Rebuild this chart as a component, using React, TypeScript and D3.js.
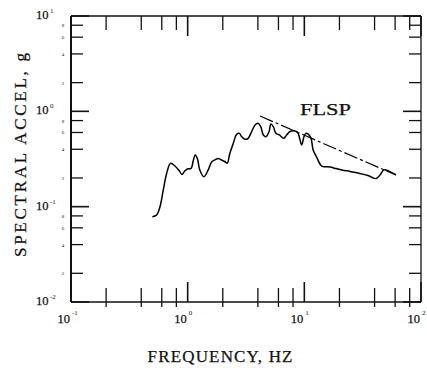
import React from 'react';
import * as d3 from 'd3';

// Response spectrum
const freq = [0.498, 0.542, 0.579, 0.618, 0.661, 0.714, 0.778, 0.847, 0.893, 0.948, 1.01, 1.07, 1.12, 1.16, 1.21, 1.27, 1.38, 1.5, 1.61, 1.71, 1.83, 1.95, 2.09, 2.18, 2.3, 2.46, 2.63, 2.77, 2.9, 3.1, 3.3, 3.53, 3.78, 4.03, 4.23, 4.45, 4.69, 4.98, 5.17, 5.42, 5.71, 6.1, 6.68, 7.05, 7.53, 8.3, 8.81, 9.48, 9.93, 10.3, 10.8, 11.4, 11.9, 12.7, 13.8, 14.5, 16.6, 18.7, 21.0, 24.6, 29.9, 35.1, 41.1, 44.5, 48.1, 53.1, 61.0];
const accel = [0.0785, 0.0818, 0.0999, 0.15, 0.224, 0.285, 0.267, 0.238, 0.218, 0.238, 0.25, 0.252, 0.309, 0.348, 0.321, 0.243, 0.206, 0.243, 0.296, 0.309, 0.321, 0.309, 0.296, 0.285, 0.363, 0.462, 0.574, 0.588, 0.542, 0.509, 0.521, 0.611, 0.719, 0.748, 0.69, 0.565, 0.542, 0.611, 0.736, 0.69, 0.588, 0.565, 0.521, 0.565, 0.614, 0.622, 0.593, 0.444, 0.542, 0.588, 0.578, 0.525, 0.393, 0.334, 0.274, 0.263, 0.261, 0.251, 0.243, 0.234, 0.223, 0.212, 0.197, 0.215, 0.243, 0.236, 0.215];

// FLSP envelope line
const flspFreq = [4.17, 61.0];
const flspAccel = [0.893, 0.215];

const xDecades = [-1, 0, 1, 2];
const yDecades = [1, 0, -1, -2];
const minorMults = [2, 4, 6, 8];

const W = 427;
const H = 368;
const L = 71, R = 421, T = 16, B = 302;

export default function App() {
  const x = d3.scaleLog().domain([0.1, 100]).range([L, R]);
  const y = d3.scaleLog().domain([0.01, 10]).range([B, T]);

  const line = d3.line<number>()
    .x((_, i) => x(freq[i]))
    .y((d) => y(d))
    .curve(d3.curveCatmullRom.alpha(0.5));
  const spectrumPath = line(accel) || '';

  const flspPath = d3.line<number>()
    .x((_, i) => x(flspFreq[i]))
    .y((d) => y(d))(flspAccel) || '';

  const xMinor: number[] = [];
  for (const d of xDecades.slice(0, -1)) for (const m of minorMults) xMinor.push(m * Math.pow(10, d));
  const yMinor: number[] = [];
  for (const d of yDecades.slice(1)) for (const m of minorMults) yMinor.push(m * Math.pow(10, d));

  const serif = '"Liberation Serif", "DejaVu Serif", serif';
  const stroke = '#111';
  const majorLen = 18;
  const minorLen = 12;
  const textStroke = { stroke: '#111', strokeWidth: 0.25 };

  return (
    <div style={{ position: 'absolute', left: 0, top: 0 }}>
      <svg width={W} height={H} style={{ display: 'block', background: '#fff' }}>
        {/* frame */}
        <line x1={L} y1={T} x2={R} y2={T} stroke={stroke} strokeWidth={1.3} />
        <line x1={L} y1={B} x2={R} y2={B} stroke={stroke} strokeWidth={1.3} />
        <line x1={L} y1={T} x2={L} y2={B} stroke={stroke} strokeWidth={2} />
        <line x1={R} y1={T} x2={R} y2={B} stroke={stroke} strokeWidth={1.3} />

        {/* x ticks: bottom & top */}
        {xDecades.map((d) => {
          const v = Math.pow(10, d);
          const px = x(v);
          return (
            <g key={'xM' + d}>
              <line x1={px} y1={B} x2={px} y2={B - majorLen - 2} stroke={stroke} strokeWidth={1.6} />
              <line x1={px} y1={T} x2={px} y2={T + majorLen + 2} stroke={stroke} strokeWidth={1.6} />
              <text x={px - 1} y={323} textAnchor="end" fontFamily={serif} fontSize={12.5} fill="#111" {...textStroke}>10</text>
              <text x={px + 1} y={315} fontFamily={serif} fontSize={7} fill="#111">{d}</text>
            </g>
          );
        })}
        {xMinor.map((v, i) => {
          const px = x(v);
          return (
            <g key={'xm' + i}>
              <line x1={px} y1={B + 5} x2={px} y2={B - minorLen - 2} stroke={stroke} strokeWidth={1.3} />
              <line x1={px} y1={T} x2={px} y2={T + minorLen + 2} stroke={stroke} strokeWidth={1.3} />
            </g>
          );
        })}

        {/* y ticks: left & right */}
        {yDecades.map((d) => {
          const v = Math.pow(10, d);
          const py = y(v);
          return (
            <g key={'yM' + d}>
              <line x1={L} y1={py} x2={L + majorLen} y2={py} stroke={stroke} strokeWidth={1.6} />
              <line x1={R} y1={py} x2={R - majorLen} y2={py} stroke={stroke} strokeWidth={1.6} />
              <text x={36} y={py + 3} fontFamily={serif} fontSize={12.5} fill="#111" {...textStroke}>10</text>
              <text x={50} y={py - 3} fontFamily={serif} fontSize={7} fill="#111">{d}</text>
            </g>
          );
        })}
        {yMinor.map((v, i) => {
          const py = y(v);
          const digit = Math.round(v / Math.pow(10, Math.floor(Math.log10(v) + 1e-9)));
          return (
            <g key={'ym' + i}>
              <line x1={L} y1={py} x2={L + minorLen} y2={py} stroke={stroke} strokeWidth={1.3} />
              <line x1={R} y1={py} x2={R - minorLen} y2={py} stroke={stroke} strokeWidth={1.3} />
              <text x={63} y={py + 2} textAnchor="middle" fontFamily={serif} fontSize={5} fill="#222">{digit}</text>
            </g>
          );
        })}

        {/* spectrum curve */}
        <path d={spectrumPath} fill="none" stroke="#000" strokeWidth={1.5} strokeLinejoin="round" />
        {/* FLSP envelope */}
        <path d={flspPath} fill="none" stroke="#000" strokeWidth={1.2} strokeDasharray="14,3,3,3" />
        <text x={300} y={115} fontFamily={serif} fontSize={16} textLength={51} lengthAdjust="spacingAndGlyphs" fill="#111" {...textStroke}>FLSP</text>

        {/* axis titles */}
        <text x={220} y={362} textAnchor="middle" fontFamily={serif} fontSize={17} textLength={145} lengthAdjust="spacing" fill="#111" {...textStroke}>FREQUENCY, HZ</text>
        <text transform="translate(26,155) rotate(-90)" textAnchor="middle" fontFamily={serif} fontSize={17} textLength={204} lengthAdjust="spacing" fill="#111" {...textStroke}>SPECTRAL ACCEL, g</text>
      </svg>
    </div>
  );
}
